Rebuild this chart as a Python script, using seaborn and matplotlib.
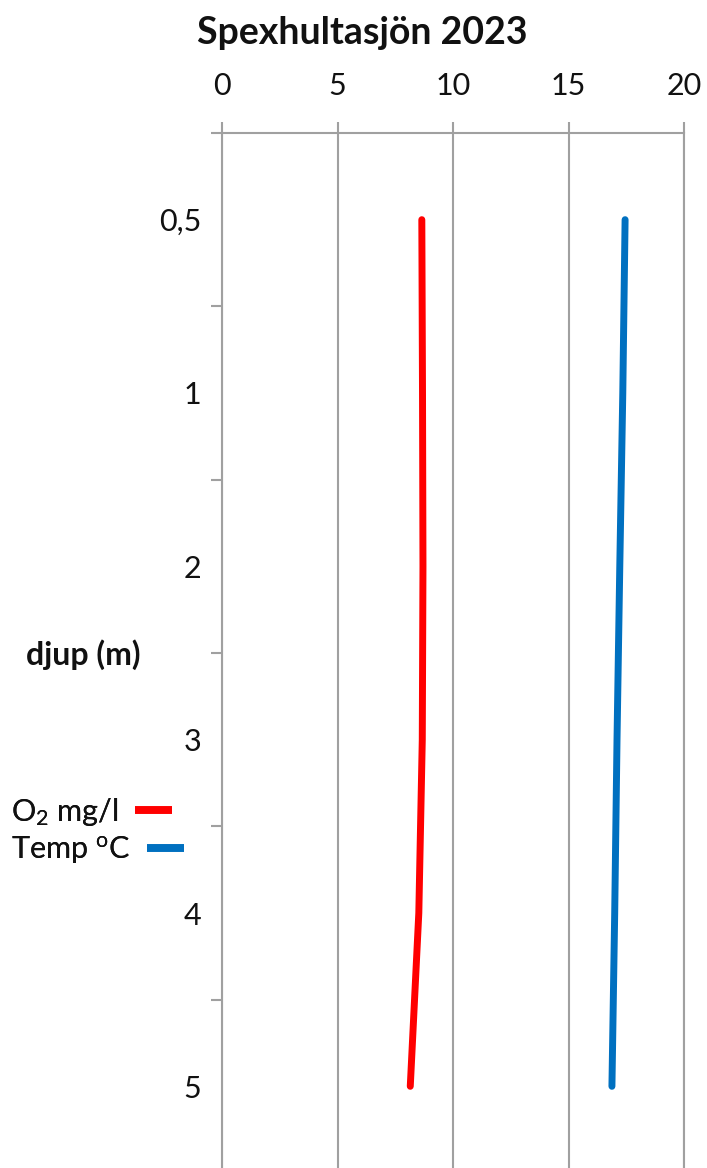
import matplotlib
matplotlib.use("Agg")
import matplotlib.pyplot as plt
from matplotlib.lines import Line2D
import seaborn as sns
import pandas as pd
import numpy as np

# ---- data ----
depth_labels = ["0,5", "1", "2", "3", "4", "5"]
o2_mg_l = [8.65, 8.68, 8.70, 8.67, 8.52, 8.15]
temp_c = [17.45, 17.35, 17.22, 17.10, 17.00, 16.88]
x_ticks = [0, 5, 10, 15, 20]
series_names = ["O2", "Temp"]
series_labels = [r"O$_2$ mg/l", r"Temp $^{\mathrm{o}}$C"]
series_colors = ["#ff0000", "#0070c0"]
title = "Spexhultasjön 2023"
ylabel = "djup (m)"

sns.set_theme(style="white")
plt.rcParams["font.family"] = ["Lato", "DejaVu Sans"]
plt.rcParams["mathtext.fontset"] = "custom"
plt.rcParams["mathtext.rm"] = "Lato"
plt.rcParams["mathtext.it"] = "Lato:italic"

df = pd.DataFrame({
    "depth": depth_labels * 2,
    "value": o2_mg_l + temp_c,
    "series": [series_names[0]] * len(depth_labels) + [series_names[1]] * len(depth_labels),
})

W, H = 707, 1168
fig = plt.figure(figsize=(W / 100, H / 100), dpi=100)
ax = fig.add_axes([222 / W, 1 - 1173 / H, 462 / W, (1173 - 133) / H])

sns.pointplot(data=df, x="value", y="depth", hue="series", order=depth_labels,
              hue_order=series_names, palette=series_colors, orient="y",
              markers="", linestyles="-", errorbar=None, ax=ax, legend=False)
for ln in ax.lines:
    ln.set_linewidth(5)
    ln.set_solid_capstyle("round")
    ln.set_zorder(3)

gray = "#a0a0a0"
txt = "#111111"
ax.set_xlim(0, 20)
ax.set_ylim(5.5, -0.5)
ax.set_xticks(x_ticks)
ax.xaxis.tick_top()
ax.tick_params(axis="x", which="major", top=True, bottom=False, length=8,
               width=1.5, color=gray, labelsize=22, pad=16, labelcolor=txt)
ax.set_yticks(range(len(depth_labels)))
ax.set_yticklabels(depth_labels)
ax.set_yticks(np.arange(-0.5, len(depth_labels) + 0.5, 1), minor=True)
ax.tick_params(axis="y", which="major", left=True, length=0, labelsize=22, pad=15,
               labelcolor=txt)
ax.tick_params(axis="y", which="minor", left=True, length=8, width=1.5, color=gray)
ax.grid(axis="x", color=gray, linewidth=1.5)
ax.grid(axis="y", visible=False)
ax.set_xlabel("")
ax.set_ylabel("")
for s in ["left", "top", "right"]:
    ax.spines[s].set_visible(True)
    ax.spines[s].set_color(gray)
    ax.spines[s].set_linewidth(1.5)
ax.spines["bottom"].set_visible(False)

fig.text(362 / W, 1 - 33 / H, title, ha="center", va="center",
         fontsize=27, fontweight="bold", color=txt)
fig.text(83 / W, 1 - 655 / H, ylabel, ha="center", va="center",
         fontsize=23, fontweight="bold", color=txt)

legend_y = [812, 850]
for lab, col, yy in zip(series_labels, series_colors, legend_y):
    leg = fig.legend([Line2D([0], [0], color=col, lw=5.5, solid_capstyle="butt")], [lab],
                     loc="center left", bbox_to_anchor=(11 / W, 1 - yy / H),
                     frameon=False, markerfirst=False, fontsize=22, handlelength=1.2,
                     handletextpad=0.55, borderaxespad=0, borderpad=0)
    for t in leg.get_texts():
        t.set_color(txt)
    fig.add_artist(leg)

fig.savefig("out.png", dpi=100)
